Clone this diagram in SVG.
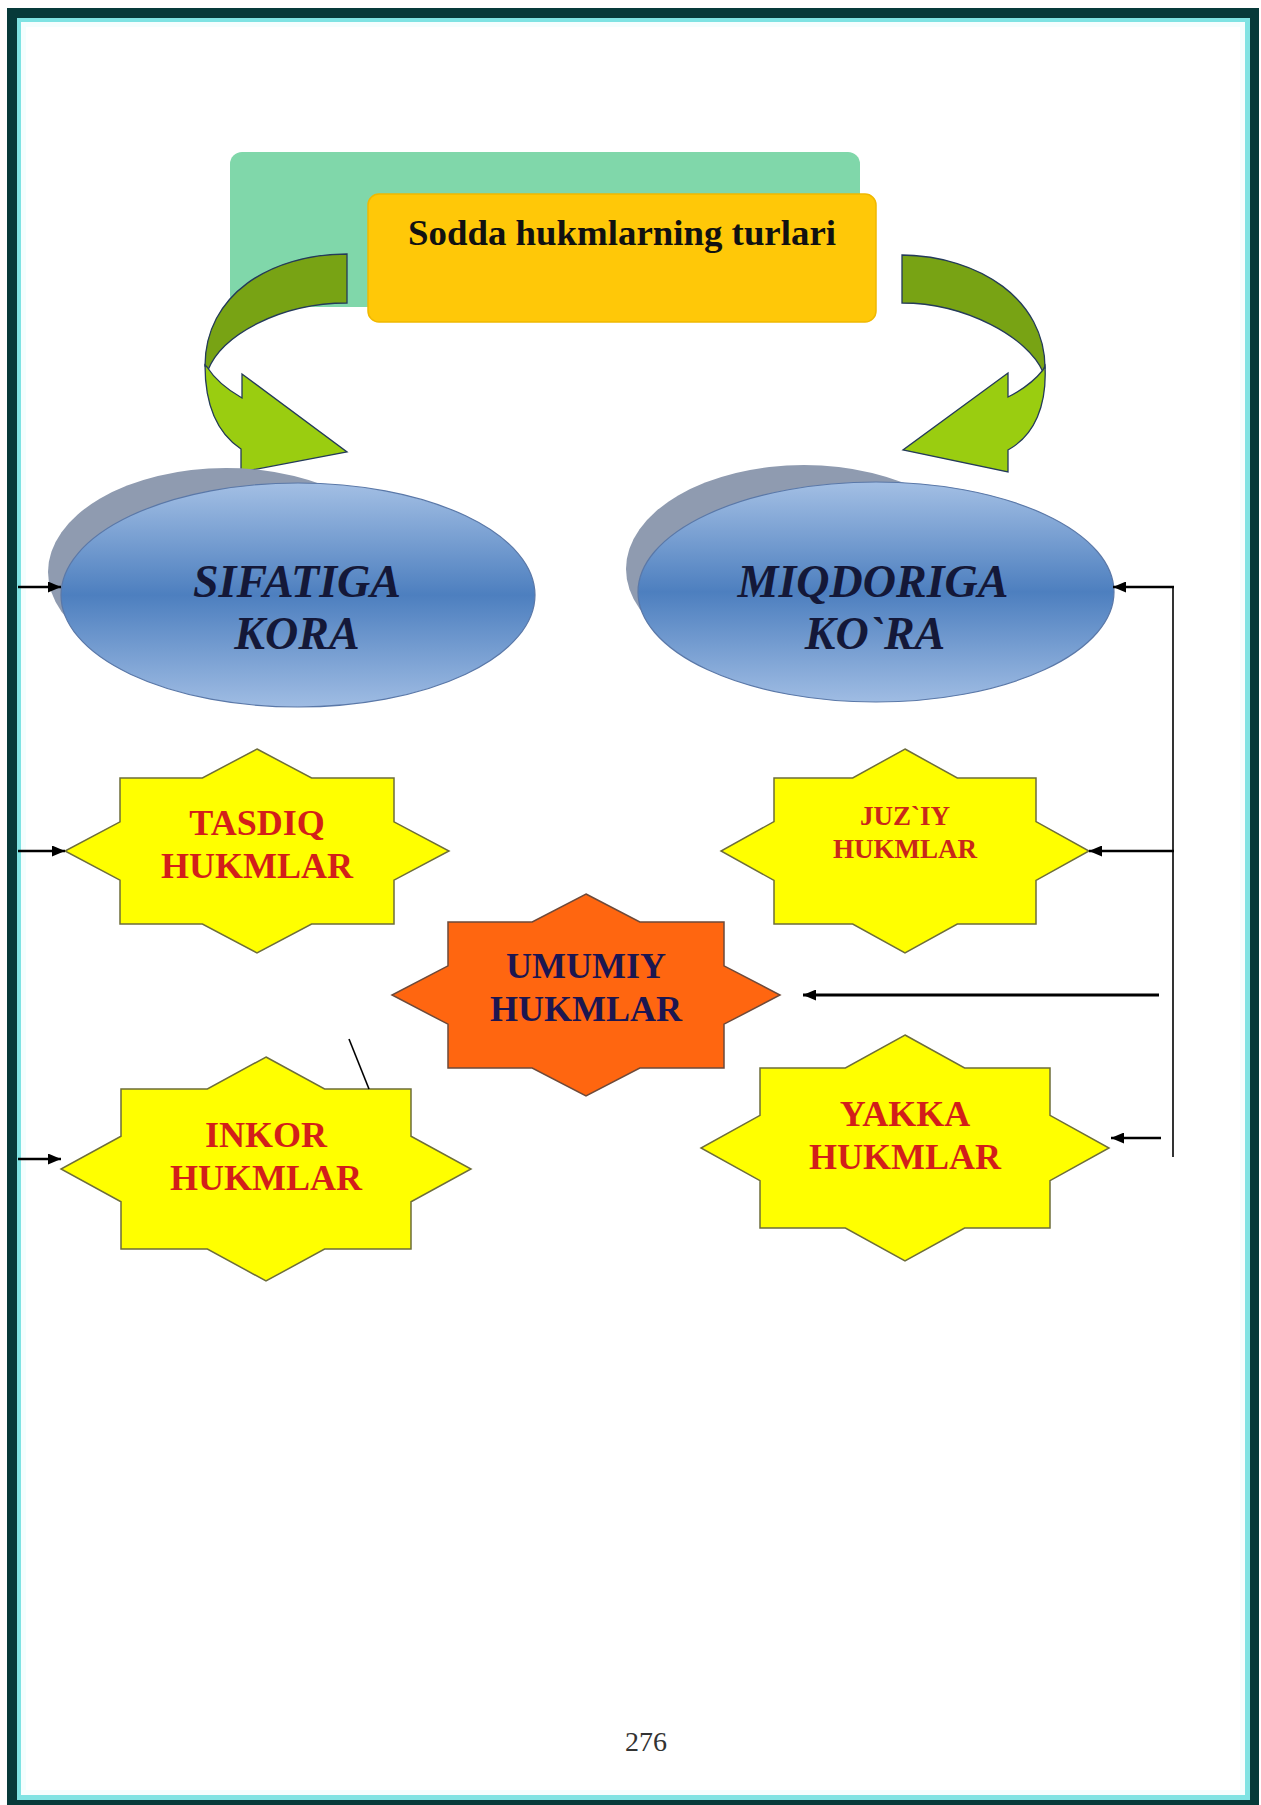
<svg xmlns="http://www.w3.org/2000/svg" width="1261" height="1805" viewBox="0 0 1261 1805">
<style>
.title{font-family:"Liberation Serif","Times New Roman",serif;font-weight:bold;font-size:36px;fill:#111;}
.ell{font-family:"Liberation Serif","Times New Roman",serif;font-weight:bold;font-style:italic;font-size:46px;fill:#141838;}
.st{font-family:"Liberation Serif","Times New Roman",serif;font-weight:bold;font-size:36px;fill:#d21f1a;}
.stn{font-family:"Liberation Serif","Times New Roman",serif;font-weight:bold;font-size:36px;fill:#1c1650;}
.sts{font-family:"Liberation Serif","Times New Roman",serif;font-weight:bold;font-size:27px;fill:#c8281a;}
.star{fill:#ffff00;stroke:#6e6e3a;stroke-width:1.5;}
.arrowdark{fill:#78a314;stroke:#243a5a;stroke-width:1.3;}
.arrowlight{fill:#9acd10;stroke:#243a5a;stroke-width:1.3;}
.conn{stroke:#000;fill:none;}
</style>
<defs>
<linearGradient id="blue" x1="0" y1="0" x2="0" y2="1">
<stop offset="0" stop-color="#a3bfe4"/>
<stop offset="0.5" stop-color="#4d7fbf"/>
<stop offset="1" stop-color="#9fbce3"/>
</linearGradient>
<marker id="ah" markerWidth="13" markerHeight="11" refX="13" refY="5.5" orient="auto" markerUnits="userSpaceOnUse">
<path d="M0,0 L13,5.5 L0,11 z" fill="#000"/>
</marker>
</defs>
<!-- page frame -->
<rect x="0" y="0" width="1261" height="1805" fill="#fff"/>
<rect x="7" y="8" width="1252" height="1805" fill="#073a3a"/>
<rect x="17" y="18" width="1233" height="1782" fill="#7fe3e3"/>
<rect x="21" y="22" width="1224" height="1773" fill="#f4fefe"/>
<rect x="26" y="27" width="1214" height="1763" fill="#fff"/>

<!-- title -->
<g id="title">
<rect x="230" y="152" width="630" height="155" rx="12" fill="#80d7aa"/>
<rect x="368" y="194" width="508" height="128" rx="11" fill="#ffc808" stroke="#f0b800" stroke-width="1.5"/>
<text class="title" x="622" y="245" text-anchor="middle" textLength="428" lengthAdjust="spacingAndGlyphs">Sodda hukmlarning turlari</text>
</g>

<!-- curved arrows -->
<g id="arrow-left">
<path class="arrowdark" d="M347,254 C270,254 205,295 205,366 L208,370 C222,335 280,303 347,303 Z"/>
<path class="arrowlight" d="M205,365 C205,410 220,435 241,449 L241,472 L347,452 L242,374 L242,398 C228,390 214,378 207,367 Z"/>
</g>
<g id="arrow-right">
<path class="arrowdark" d="M902,255 C980,256 1045,300 1045,368 L1043,372 C1028,337 965,303 902,303 Z"/>
<path class="arrowlight" d="M1045,366 C1047,405 1035,435 1008,450 L1008,472 L903,450 L1008,373 L1008,397 C1022,390 1035,380 1043,370 Z"/>
</g>

<!-- ellipses -->
<g id="sifatiga">
<ellipse cx="226" cy="572" rx="178" ry="104" fill="#8f9bb0"/>
<ellipse cx="298" cy="595" rx="237" ry="112" fill="url(#blue)" stroke="#5a78a8" stroke-width="1.2"/>
<text class="ell" x="297" y="597" text-anchor="middle">SIFATIGA</text>
<text class="ell" x="297" y="649" text-anchor="middle">KORA</text>
</g>
<g id="miqdoriga">
<ellipse cx="804" cy="569" rx="178" ry="104" fill="#8f9bb0"/>
<ellipse cx="876" cy="592" rx="238" ry="110" fill="url(#blue)" stroke="#5a78a8" stroke-width="1.2"/>
<text class="ell" x="873" y="597" text-anchor="middle">MIQDORIGA</text>
<text class="ell" x="875" y="649" text-anchor="middle">KO`RA</text>
</g>

<!-- stars -->
<g id="tasdiq" transform="translate(257,851)">
<polygon class="star" points="0,-102 54.6,-73 137,-73 137,-29.2 192,0 137,29.2 137,73 54.6,73 0,102 -54.6,73 -137,73 -137,29.2 -192,0 -137,-29.2 -137,-73 -54.6,-73"/>
<text class="st" x="0" y="-16" text-anchor="middle">TASDIQ</text>
<text class="st" x="0" y="27" text-anchor="middle">HUKMLAR</text>
</g>
<g id="juziy" transform="translate(905,851)">
<polygon class="star" points="0,-102 52.3,-73 131,-73 131,-29.4 184,0 131,29.4 131,73 52.3,73 0,102 -52.3,73 -131,73 -131,29.4 -184,0 -131,-29.4 -131,-73 -52.3,-73"/>
<text class="sts" x="0" y="-26" text-anchor="middle">JUZ`IY</text>
<text class="sts" x="0" y="7" text-anchor="middle">HUKMLAR</text>
</g>
<g id="umumiy" transform="translate(586,995)">
<polygon points="0,-101 53.8,-73 138,-73 138,-29.2 194,0 138,29.2 138,73 53.8,73 0,101 -53.8,73 -138,73 -138,29.2 -194,0 -138,-29.2 -138,-73 -53.8,-73" fill="#ff6610" stroke="#6e4a3a" stroke-width="1.5"/>
<text class="stn" x="0" y="-17" text-anchor="middle">UMUMIY</text>
<text class="stn" x="0" y="26" text-anchor="middle">HUKMLAR</text>
</g>
<g id="inkor" transform="translate(266,1169)">
<polygon class="star" points="0,-112 58.6,-80 145,-80 145,-32.8 205,0 145,32.8 145,80 58.6,80 0,112 -58.6,80 -145,80 -145,32.8 -205,0 -145,-32.8 -145,-80 -58.6,-80"/>
<text class="st" x="0" y="-22" text-anchor="middle">INKOR</text>
<text class="st" x="0" y="21" text-anchor="middle">HUKMLAR</text>
</g>
<g id="yakka" transform="translate(905,1148)">
<polygon class="star" points="0,-113 59.6,-80 145,-80 145,-32.7 204,0 145,32.7 145,80 59.6,80 0,113 -59.6,80 -145,80 -145,32.7 -204,0 -145,-32.7 -145,-80 -59.6,-80"/>
<text class="st" x="0" y="-22" text-anchor="middle">YAKKA</text>
<text class="st" x="0" y="21" text-anchor="middle">HUKMLAR</text>
</g>

<!-- connectors -->
<g id="connectors">
<line class="conn" x1="18" y1="587" x2="61" y2="587" stroke-width="2.5" marker-end="url(#ah)"/>
<line class="conn" x1="18" y1="851" x2="65" y2="851" stroke-width="2.5" marker-end="url(#ah)"/>
<line class="conn" x1="18" y1="1159" x2="61" y2="1159" stroke-width="2.5" marker-end="url(#ah)"/>
<line class="conn" x1="1173" y1="587" x2="1173" y2="1157" stroke-width="1.6"/>
<line class="conn" x1="1174" y1="587" x2="1113" y2="587" stroke-width="2.5" marker-end="url(#ah)"/>
<line class="conn" x1="1174" y1="851" x2="1089" y2="851" stroke-width="2.5" marker-end="url(#ah)"/>
<line class="conn" x1="1159" y1="995" x2="803" y2="995" stroke-width="3" marker-end="url(#ah)"/>
<line class="conn" x1="1161" y1="1138" x2="1111" y2="1138" stroke-width="2.5" marker-end="url(#ah)"/>
<line class="conn" x1="349" y1="1039" x2="369" y2="1089" stroke-width="1.6"/>
</g>

<text x="646" y="1751" text-anchor="middle" font-family="Liberation Serif, Times New Roman, serif" font-size="28" fill="#333">276</text>
</svg>
